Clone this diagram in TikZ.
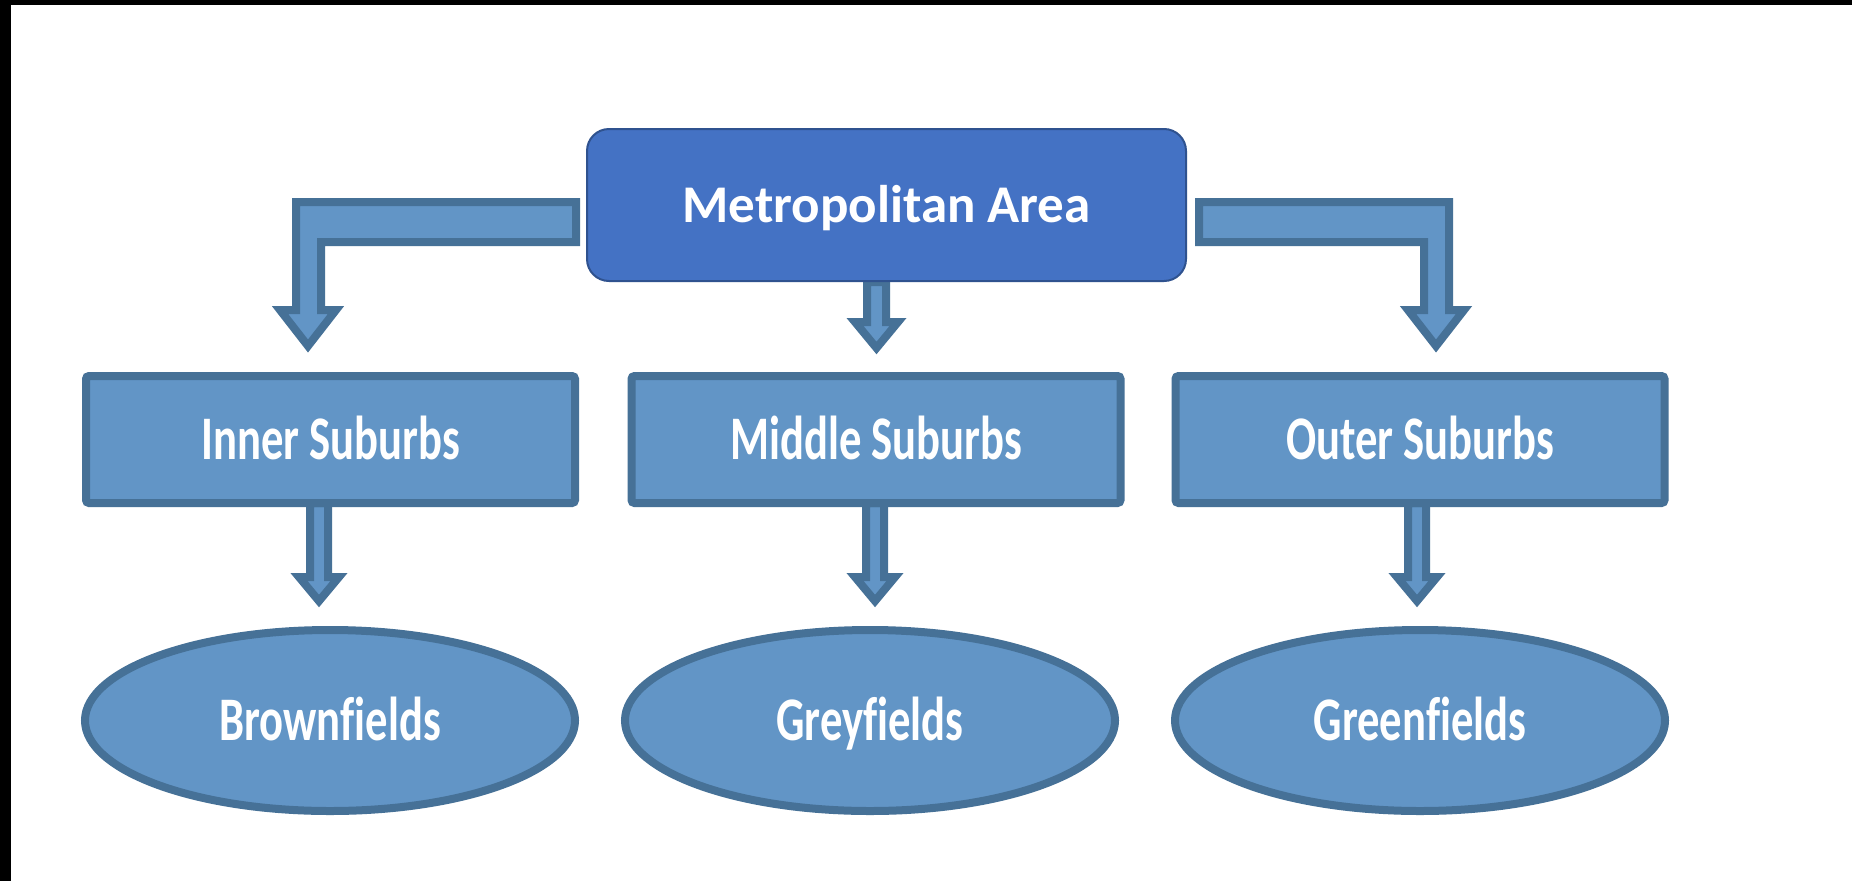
\documentclass[tikz,border=0pt]{standalone}
\usepackage{fontspec}
\setmainfont{Carlito}[Ligatures=NoCommon]
\newfontfamily\narrowfont{Carlito}[FakeStretch=0.72,Ligatures=NoCommon]
\usetikzlibrary{shapes.geometric}
\definecolor{metrofill}{RGB}{68,114,196}
\definecolor{metroline}{RGB}{47,82,143}
\definecolor{subfill}{RGB}{98,149,198}
\definecolor{subline}{RGB}{70,113,151}
\tikzset{
  metrobox/.style={draw=metroline, fill=metrofill, line width=2pt, rounded corners=22pt,
    minimum width=599pt, minimum height=152pt, inner sep=0pt, text=white,
    text height=34pt, text depth=0pt,
    font=\fontsize{53}{60}\selectfont\bfseries},
  subbox/.style={draw=subline, fill=subfill, line width=8pt, rounded corners=3pt,
    minimum width=489pt, minimum height=127pt, inner sep=0pt, text=white,
    text height=39pt, text depth=0pt,
    font=\narrowfont\fontsize{62}{70}\selectfont\bfseries},
  fieldell/.style={ellipse, draw=subline, fill=subfill, line width=8pt,
    minimum width=490pt, minimum height=181pt, inner sep=0pt, text=white,
    text height=39pt, text depth=0pt,
    font=\narrowfont\fontsize{62}{70}\selectfont\bfseries},
  blockarrow/.style={draw=subline, fill=subfill, line width=8pt, miter limit=10}
}
\begin{document}
\begin{tikzpicture}[x=1pt,y=-1pt]
\useasboundingbox (0,0) rectangle (1852,881);
\fill[white] (0,0) rectangle (1852,881);
\fill[black] (0,0) rectangle (1852,5);
\fill[black] (0,0) rectangle (11,881);

% elbow arrows
\draw[blockarrow] (576,202) -- (296,202) -- (296,310) -- (280,310) -- (308,346) -- (336,310) -- (321,310) -- (321,242) -- (576,242) -- cycle;
\draw[blockarrow] (1199,202) -- (1449,202) -- (1449,310) -- (1464,310) -- (1436,346) -- (1408,310) -- (1424,310) -- (1424,242) -- (1199,242) -- cycle;
% middle arrow under metro
\draw[blockarrow] (867,282) -- (867,322) -- (855,322) -- (876.5,348) -- (898,322) -- (886,322) -- (886,282) -- cycle;
% small arrows
\foreach \cx in {319,875,1417}{
  \draw[blockarrow] (\cx-9,503) -- (\cx-9,577) -- (\cx-20,577) -- (\cx,601) -- (\cx+20,577) -- (\cx+9,577) -- (\cx+9,503) -- cycle;
}

\node[metrobox] (metro) at (886.5,205) {Metropolitan Area};

\node[subbox] (inner) at (330.5,439.5) {Inner Suburbs};
\node[subbox] (middle) at (876,439.5) {Middle Suburbs};
\node[subbox] (outer) at (1420,439.5) {Outer Suburbs};

\node[fieldell] (brown) at (330,720.5) {Brownfields};
\node[fieldell] (grey) at (870,720.5) {Greyfields};
\node[fieldell] (green) at (1420,720.5) {Greenfields};
\end{tikzpicture}
\end{document}
